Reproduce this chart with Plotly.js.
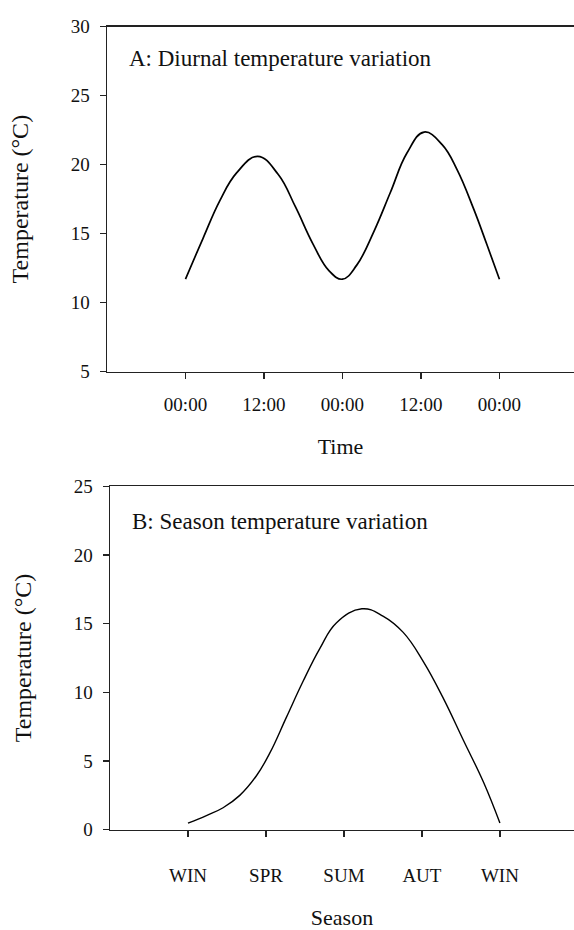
<!DOCTYPE html>
<html>
<head>
<meta charset="utf-8">
<script src="https://cdn.plot.ly/plotly-3.0.1.min.js"></script>
<style>html,body{margin:0;padding:0;background:#fff;overflow:hidden}#chart{width:574px;height:930px}</style>
</head>
<body>
<div id="chart"></div>
<script>
// Panel A: diurnal (x in 12-hour units)
var timeTickVals = [0, 1, 2, 3, 4];
var timeTickText = ["00:00", "12:00", "00:00", "12:00", "00:00"];
var diurnalX = [0, 0.225, 0.438, 0.651, 0.92, 1.18, 1.40, 1.62, 1.83, 2.0, 2.18, 2.40, 2.61, 2.82, 3.04, 3.27, 3.46, 3.67, 3.84, 4.0];
var diurnalY = [11.7, 14.68, 17.39, 19.4, 20.6, 19.3, 16.95, 14.3, 12.3, 11.7, 12.7, 15.15, 17.98, 20.82, 22.36, 21.45, 19.64, 16.81, 14.21, 11.7];

// Panel B: seasonal
var seasonTickVals = [0, 1, 2, 3, 4];
var seasonTickText = ["WIN", "SPR", "SUM", "AUT", "WIN"];
var seasonX = [0, 0.236, 0.45, 0.664, 0.878, 1.05, 1.263, 1.476, 1.69, 1.905, 2.23, 2.5, 2.76, 3.02, 3.27, 3.53, 3.79, 4.0];
var seasonY = [0.47, 1.02, 1.59, 2.49, 3.92, 5.58, 8.19, 10.8, 13.18, 15.07, 16.08, 15.55, 14.36, 12.22, 9.61, 6.52, 3.44, 0.47];

var serif = "Liberation Serif, Times New Roman, serif";
var axColor = "#222";

var traces = [
  {x: diurnalX, y: diurnalY, xaxis: "x", yaxis: "y", mode: "lines",
   line: {color: "#000", width: 1.7, shape: "spline", smoothing: 1.2}, hoverinfo: "skip"},
  {x: seasonX, y: seasonY, xaxis: "x2", yaxis: "y2", mode: "lines",
   line: {color: "#000", width: 1.4, shape: "spline", smoothing: 1.2}, hoverinfo: "skip"}
];

function xax(domainStart, vals, text, title, anchor, labelOff, titleOff) {
  return {
    domain: [domainStart, 1], range: [-1, 4.95], anchor: anchor,
    tickmode: "array", tickvals: vals, ticktext: text,
    showline: true, mirror: true, linecolor: axColor, linewidth: 1.5,
    ticks: "outside", ticklen: 6, tickwidth: 1.5, tickcolor: axColor,
    showgrid: false, zeroline: false, ticklabelstandoff: labelOff,
    tickfont: {family: serif, size: 19, color: "#111"},
    title: {text: title, font: {family: serif, size: 22, color: "#111"}, standoff: titleOff},
    automargin: true, fixedrange: true
  };
}
function yax(domain, range, dtick, anchor) {
  return {
    domain: domain, range: range, anchor: anchor, dtick: dtick, tick0: 0,
    showline: true, linecolor: axColor, linewidth: 1.5,
    ticks: "outside", ticklen: 6, tickwidth: 1.5, tickcolor: axColor,
    showgrid: false, zeroline: false, ticklabelstandoff: 6,
    tickfont: {family: serif, size: 19, color: "#111"},
    title: {text: "Temperature (°C)", font: {family: serif, size: 24, color: "#111"}, standoff: 35},
    automargin: true, fixedrange: true
  };
}

var layout = {
  width: 574, height: 930,
  margin: {l: 0, r: 0, t: 0, b: 0},
  paper_bgcolor: "#fff", plot_bgcolor: "#fff",
  showlegend: false,
  xaxis: xax(107 / 574, timeTickVals, timeTickText, "Time", "y", 9, 24),
  yaxis: yax([1 - 370 / 930, 1 - 17 / 930], [5, 30], 5, "x"),
  xaxis2: xax(110 / 574, seasonTickVals, seasonTickText, "Season", "y2", 22, 24),
  yaxis2: yax([1 - 838.5 / 930, 1 - 487.3 / 930], [0, 25], 5, "x2"),
  annotations: [
    {text: "A: Diurnal temperature variation", xref: "paper", yref: "paper",
     x: 127 / 574, y: 1 - 50 / 930, xanchor: "left", yanchor: "middle", showarrow: false,
     font: {family: serif, size: 23, color: "#111"}},
    {text: "B: Season temperature variation", xref: "paper", yref: "paper",
     x: 130 / 574, y: 1 - 523 / 930, xanchor: "left", yanchor: "middle", showarrow: false,
     font: {family: serif, size: 23, color: "#111"}}
  ]
};

Plotly.newPlot("chart", traces, layout, {displayModeBar: false, staticPlot: true});
</script>
</body>
</html>
